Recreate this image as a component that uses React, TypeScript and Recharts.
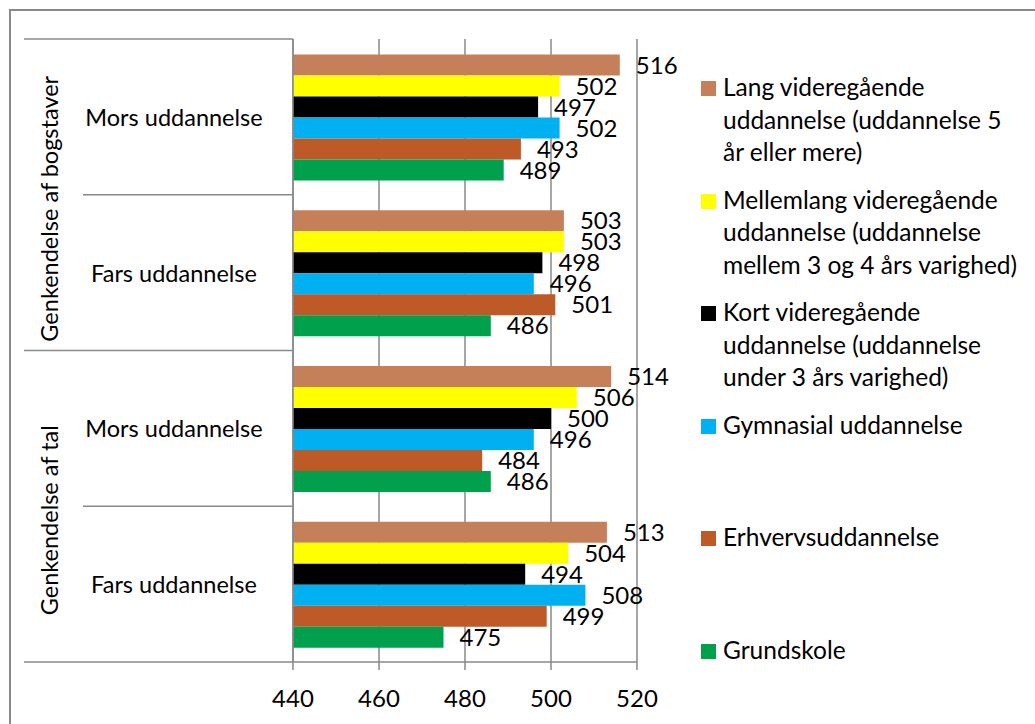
import React from 'react';
import { BarChart, Bar, XAxis, YAxis, CartesianGrid, Legend, LabelList } from 'recharts';

// categories top to bottom
const categories = ['Mors uddannelse', 'Fars uddannelse', 'Mors uddannelse', 'Fars uddannelse'];
const groups = ['Genkendelse af bogstaver', 'Genkendelse af tal'];

const seriesNames = [
  'Lang videregående\nuddannelse (uddannelse 5\når eller mere)',
  'Mellemlang videregående\nuddannelse (uddannelse\nmellem 3 og 4 års varighed)',
  'Kort videregående\nuddannelse (uddannelse\nunder 3 års varighed)',
  'Gymnasial uddannelse',
  'Erhvervsuddannelse',
  'Grundskole',
];
const seriesColors = ['#C68059', '#FFFF00', '#000000', '#00B0F0', '#BE5A28', '#00A04C'];

const lang = [516, 503, 514, 513];
const mellemlang = [502, 503, 506, 504];
const kort = [497, 498, 500, 494];
const gymnasial = [502, 496, 496, 508];
const erhverv = [493, 501, 484, 499];
const grundskole = [489, 486, 486, 475];

const xTicks = [440, 460, 480, 500, 520];

const seriesValues = [lang, mellemlang, kort, gymnasial, erhverv, grundskole];
const keys = ['s0', 's1', 's2', 's3', 's4', 's5'];

const data = categories.map((name, i) => {
  const row: any = { id: 'c' + i, name };
  seriesValues.forEach((vals, s) => {
    row[keys[s]] = vals[i];
  });
  return row;
});

const FONT = 'Lato, "Open Sans", sans-serif';
const GRID = '#898989';
const LEGEND_W = 330;

const CategoryTick = (props: any) => {
  const { y, payload, index } = props;
  const half = payload.offset ?? 77.9;
  const i = index ?? payload.index;
  const isFirstInGroup = i % 2 === 0;
  return (
    <g>
      <line x1={isFirstInGroup ? 24 : 83} x2={293} y1={y - half} y2={y - half} stroke={GRID} strokeWidth={1.5} />
      {i === categories.length - 1 && (
        <line x1={24} x2={293} y1={y + half} y2={y + half} stroke={GRID} strokeWidth={1.5} />
      )}
      <text x={174} y={y} textAnchor="middle" dominantBaseline="central" fontSize={23.5} fill="#000" fontFamily={FONT}>
        {categories[i]}
      </text>
      {isFirstInGroup && (
        <text
          x={49}
          y={y + half + 14}
          textAnchor="middle"
          dominantBaseline="central"
          fontSize={23.5}
          fill="#000"
          fontFamily={FONT}
          transform={`rotate(-90 49 ${y + half + 14})`}
        >
          {groups[i / 2]}
        </text>
      )}
    </g>
  );
};

const renderLegend = () => (
  <div style={{ fontFamily: FONT, fontSize: 24.5, color: '#000' }}>
    {seriesNames.map((name, s) => (
      <div key={name} style={{ height: 112.6, display: 'flex', alignItems: 'flex-start' }}>
        <div style={{ width: 15, height: 15, background: seriesColors[s], marginTop: 9, marginRight: 7, flexShrink: 0 }} />
        <div style={{ whiteSpace: 'pre-line', lineHeight: '32.5px', marginTop: -1 }}>{name}</div>
      </div>
    ))}
  </div>
);

const App: React.FC = () => {
  return (
    <div style={{ position: 'absolute', left: 0, top: 0, width: 1035, height: 724, background: '#fff', fontFamily: FONT }}>
      <div
        style={{
          position: 'absolute',
          left: 9,
          top: 9,
          width: 1026,
          height: 715,
          borderTop: `2px solid ${GRID}`,
          borderLeft: `2px solid ${GRID}`,
          boxSizing: 'border-box',
        }}
      />
      <BarChart
        width={1035}
        height={724}
        data={data}
        layout="vertical"
        margin={{ top: 39, right: 398 - LEGEND_W, left: 24, bottom: 30 }}
        barCategoryGap="10%"
        barGap={0}
        style={{ position: 'absolute', left: 0, top: 0 }}
      >
        <CartesianGrid horizontal={false} vertical stroke={GRID} strokeWidth={1.5} />
        <XAxis
          type="number"
          domain={[440, 520]}
          ticks={xTicks}
          height={32}
          tickSize={8}
          tickMargin={20}
          axisLine={{ stroke: GRID, strokeWidth: 1.5 }}
          tickLine={{ stroke: GRID, strokeWidth: 1.5 }}
          tick={{ fill: '#000', fontSize: 24, fontFamily: FONT }}
          allowDataOverflow
        />
        <YAxis
          type="category"
          dataKey="id"
          width={269}
          axisLine={{ stroke: GRID, strokeWidth: 1.5 }}
          tickLine={false}
          tick={<CategoryTick />}
          interval={0}
        />
        <Legend
          layout="vertical"
          verticalAlign="top"
          align="right"
          content={renderLegend}
          wrapperStyle={{ left: 701, top: 72, width: LEGEND_W }}
        />
        {keys.map((k, s) => (
          <Bar key={k} dataKey={k} name={seriesNames[s]} fill={seriesColors[s]} isAnimationActive={false}>
            <LabelList
              dataKey={k}
              position="right"
              offset={16}
              fill="#000"
              fontSize={24}
              fontFamily={FONT}
            />
          </Bar>
        ))}
      </BarChart>
    </div>
  );
};

export default App;
